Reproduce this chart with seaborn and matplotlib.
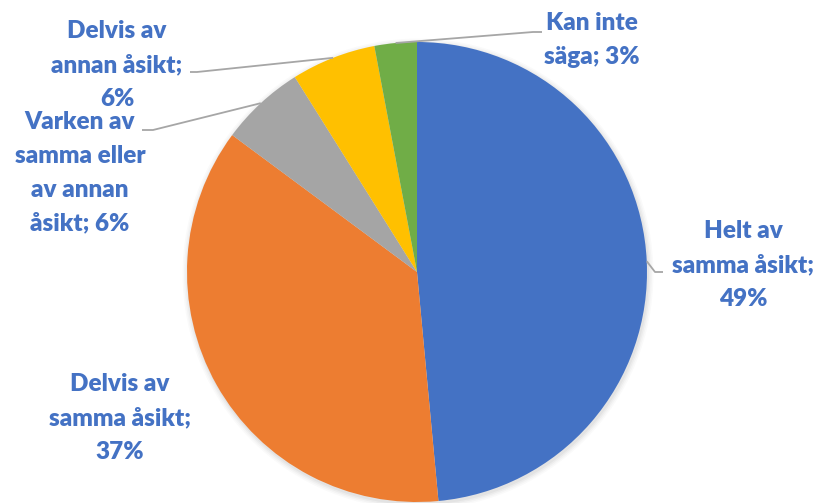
import numpy as np
import matplotlib
matplotlib.use("Agg")
import matplotlib.pyplot as plt
import seaborn as sns
from matplotlib.patches import Circle

categories = ["Helt av samma åsikt", "Delvis av samma åsikt", "Varken av samma eller av annan åsikt",
              "Delvis av annan åsikt", "Kan inte säga"]
values = [49, 37, 6, 6, 3]
label_texts = ["Helt av\nsamma åsikt;\n49%", "Delvis av\nsamma åsikt;\n37%",
               "Varken av\nsamma eller\nav annan\nåsikt; 6%", "Delvis av\nannan åsikt;\n6%",
               "Kan inte\nsäga; 3%"]
colors = ["#4472C4", "#ED7D31", "#A5A5A5", "#FFC000", "#70AD47"]

sns.set_theme(style="white")
plt.rcParams['font.family'] = ['Lato', 'DejaVu Sans']

W, H = 817, 503
fig = plt.figure(figsize=(W / 100, H / 100), dpi=100)
ax = fig.add_axes([0, 0, 1, 1])

cx, cy, R = 417, H - 272, 230

# soft shadow
for i, a in enumerate([0.035, 0.03, 0.025, 0.02]):
    ax.add_patch(Circle((cx + 1, cy - 2), R + 1 + i * 1.5, color='black', alpha=a, lw=0, zorder=0))

wedges, _ = ax.pie(values, colors=sns.color_palette(colors), startangle=90, counterclock=False,
                   center=(cx, cy), radius=R, frame=True,
                   wedgeprops=dict(linewidth=0, zorder=1))
ax.set_xlim(0, W)
ax.set_ylim(0, H)
ax.set_aspect('equal')
ax.axis('off')

# label layout (pixel coords, y from top): text center, leader start points
label_pos = [(743, 265), (120, 418), (80, 173), (117, 65), (592, 40)]
leader_start = [[(663, 272), (655, 272)], None, [(142, 130), (153, 130)],
                [(190, 72), (197, 72)], [(542, 32), (533, 32)]]

for w, txt, (lx, ly), ls in zip(wedges, label_texts, label_pos, leader_start):
    ax.text(lx, H - ly, txt, ha='center', va='center', color="#4472C4",
            fontsize=17.5, fontweight='heavy', linespacing=1.65, zorder=5)
    if ls is not None:
        mid = np.deg2rad((w.theta1 + w.theta2) / 2)
        ex, ey = cx + R * np.cos(mid), cy + R * np.sin(mid)
        xs = [p[0] for p in ls] + [ex]
        ys = [H - p[1] for p in ls] + [ey]
        ax.plot(xs, ys, color="#A6A6A6", lw=1.3, zorder=4, solid_capstyle='butt')

fig.savefig("out.png", dpi=100, facecolor='white')
